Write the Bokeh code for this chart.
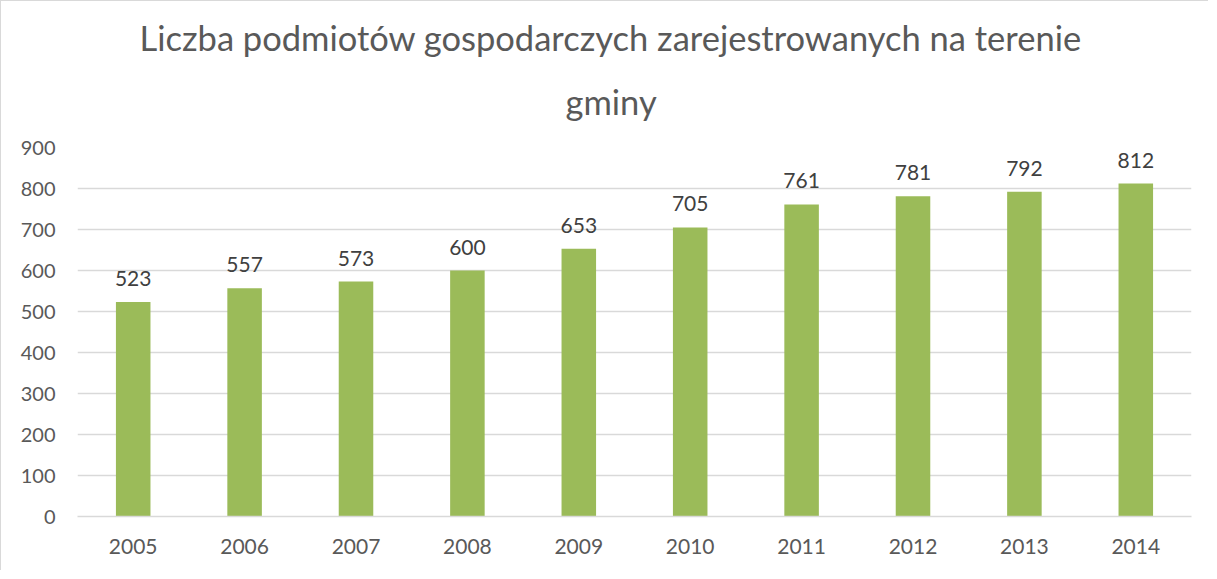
from bokeh.plotting import figure
from bokeh.models import Range1d, FactorRange, Title, ColumnDataSource, SingleIntervalTicker
from bokeh.core.properties import value
from bokeh.embed import file_html
from bokeh.resources import INLINE

years = ["2005", "2006", "2007", "2008", "2009", "2010", "2011", "2012", "2013", "2014"]
counts = [523, 557, 573, 600, 653, 705, 761, 781, 792, 812]
title_lines = ["Liczba podmiotów gospodarczych zarejestrowanych na terenie", "gminy"]

FONT = "Lato"
src = ColumnDataSource(dict(x=years, top=counts, label=[str(v) for v in counts]))

p = figure(
    x_range=FactorRange(factors=years, range_padding=0),
    y_range=Range1d(0, 900),
    width=1208, height=570,
    output_backend="svg", toolbar_location=None, title=None,
    min_border_left=76, min_border_right=18, min_border_top=146, min_border_bottom=55,
)
p.styles = {"border-left": "1px solid #d9d9d9", "border-top": "1px solid #d9d9d9"}
p.outline_line_color = None
p.background_fill_color = "white"
p.border_fill_color = "white"

p.vbar(x="x", top="top", width=0.31, source=src, fill_color="#9BBB59", line_color=None)
p.text(x="x", y="top", text="label", source=src, text_align="center", text_baseline="bottom",
       y_offset=-16, text_font=value(FONT), text_font_size="21px", text_color="#404040")

p.add_layout(Title(text=title_lines[1], align="left", text_font=FONT, text_font_size="34.5px",
                   text_font_style="normal", text_color="#595959", standoff=51, offset=488), "above")
p.add_layout(Title(text=title_lines[0], align="left", text_font=FONT, text_font_size="34.5px",
                   text_font_style="normal", text_color="#595959", standoff=-9, offset=62), "above")

p.yaxis.ticker = SingleIntervalTicker(interval=100)
p.ygrid.ticker = SingleIntervalTicker(interval=100)
p.xgrid.grid_line_color = None
p.ygrid.grid_line_color = "#d9d9d9"
p.ygrid.grid_line_width = 1.3

for ax in (p.xaxis, p.yaxis):
    ax.major_tick_line_color = None
    ax.minor_tick_line_color = None
    ax.major_label_text_font = FONT
    ax.major_label_text_color = "#595959"
p.xaxis.major_label_text_font_size = "21px"
p.yaxis.major_label_text_font_size = "20px"
p.yaxis.axis_line_color = None
p.xaxis.axis_line_color = "#d9d9d9"
p.xaxis.axis_line_width = 1.3
p.yaxis.major_label_standoff = 16
p.xaxis.major_label_standoff = 16

open("out.html", "w").write(file_html(p, INLINE))
